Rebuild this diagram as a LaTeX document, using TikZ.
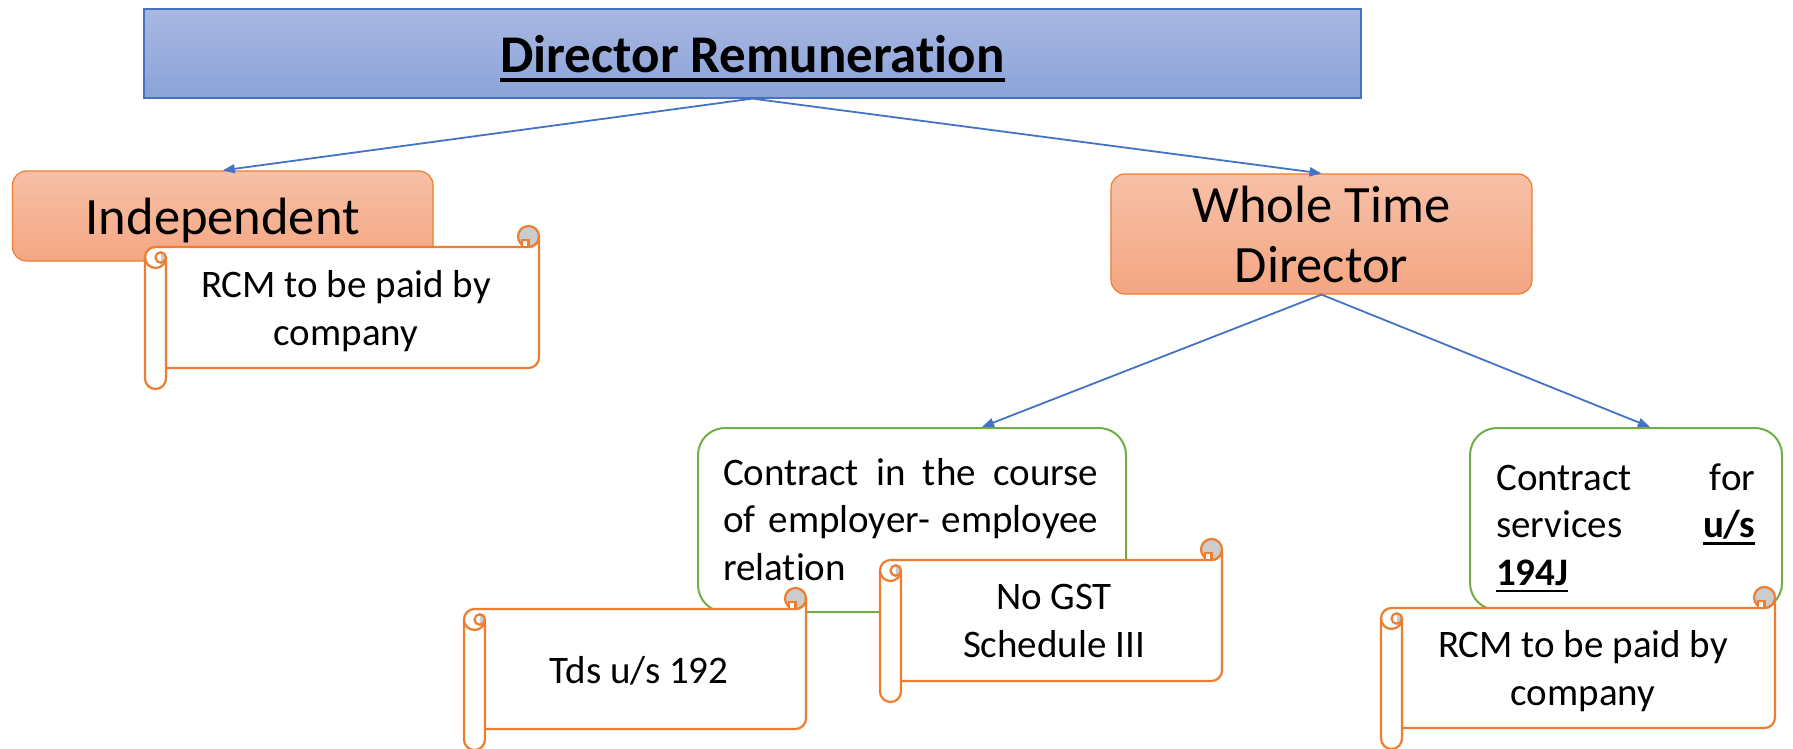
\documentclass[tikz,border=0pt]{standalone}
\usepackage{fontspec}
\setmainfont{Carlito}[Ligatures=NoCommon]
\usetikzlibrary{arrows.meta}

\definecolor{accblue}{RGB}{68,114,196}
\definecolor{accorange}{RGB}{237,125,49}
\definecolor{accgreen}{RGB}{112,173,71}
\definecolor{curlgray}{RGB}{204,204,204}

\newsavebox{\ulbox}
\newcommand{\thickul}[3]{\sbox{\ulbox}{#3}\rlap{\rule[-#1]{\wd\ulbox}{#2}}\usebox{\ulbox}}

% scroll outline: left, top, right, bottom
\newcommand{\scrollshape}[4]{%
  \draw[scrollline,fill=white] ({#1+10.5},{#2+21}) -- ({#3-10.5},{#2+21})
    arc[start angle=90,end angle=0,radius=10.5] -- (#3,{#4-31.5})
    arc[start angle=0,end angle=90,radius=10.5] -- ({#1+21},{#4-21}) -- ({#1+21},{#4-10.5})
    arc[start angle=0,end angle=180,radius=10.5] -- (#1,{#2+31.5})
    arc[start angle=180,end angle=270,radius=10.5] -- cycle;
  \draw[scrollline,fill=curlgray] ({#3-10.5},{#2+10.5}) circle[radius=10.5];
  \draw[scrollline,fill=white] ({#3-17},{#2+14}) rectangle ({#3-10.5},{#2+21});
  \draw[scrollline] (#1,{#2+31.5}) arc[start angle=180,end angle=0,radius=10.5] -- ({#1+21},{#4-21});
  \fill[curlgray] ({#1+15.75},{#2+26.25}) arc[start angle=270,end angle=450,radius=5.25] -- cycle;
  \draw[scrollline] ({#1+15.75},{#2+31.5}) circle[radius=5.25];
}

\begin{document}
\begin{tikzpicture}[x=1pt,y=-1pt,
  titlebox/.style={draw=accblue,line width=1.2pt,top color={rgb,255:red,169;green,183;blue,226},
    bottom color={rgb,255:red,139;green,163;blue,217},font=\fontsize{53}{60}\selectfont\bfseries},
  orangebox/.style={draw=accorange,line width=1.2pt,rounded corners=14pt,
    top color={rgb,255:red,247;green,192;blue,167},bottom color={rgb,255:red,244;green,166;blue,130},
    font=\fontsize{52.5}{60}\selectfont},
  greenbox/.style={draw=accgreen,line width=2pt,fill=white,rounded corners=27pt},
  greentext/.style={align=left,anchor=base west,inner sep=0pt,font=\fontsize{39}{47.5}\selectfont},
  scrollline/.style={draw=accorange,line width=2.2pt},
  scrolltext/.style={align=center,anchor=base,font=\fontsize{39}{48}\selectfont},
  link/.style={draw=accblue,line width=1.8pt,-{Triangle[length=12pt,width=9pt]}}]
\useasboundingbox (0,0) rectangle (1793,749);

\node[titlebox,minimum width=1217pt,minimum height=89pt,text depth=0pt] (title) at (752.5,53.5)
  {\thickul{10pt}{4pt}{Director Remuneration}};
\node[orangebox,minimum width=420.5pt,minimum height=90pt,text depth=0pt] (indep) at (222.75,216) {Independent};
\node[orangebox,minimum width=421pt,minimum height=120pt,align=center] (wtd) at (1321.5,234)
  {Whole Time\\Director};
\node[greenbox,minimum width=428pt,minimum height=184pt] (cin) at (912,520) {};
\node[greentext,text width=375pt] (cintext) at (723,485)
  {Contract\hfill in\hfill the\hfill course\\of employer-\hfill employee\\relation};
\node[greenbox,minimum width=312pt,minimum height=182pt] (cfor) at (1626,519) {};
\node[greentext,text width=259pt] (cfortext) at (1496,490)
  {Contract\hfill for\\services\hfill \textbf{\thickul{7pt}{2.5pt}{u/s}}\\\textbf{\thickul{7pt}{2.5pt}{194J}}};

\draw[link] (title.south) -- (indep.north);
\draw[link] (title.south) -- (wtd.north);
\draw[link] (wtd.south) -- ([xshift=70pt]cin.north);
\draw[link] (wtd.south) -- ([xshift=24pt]cfor.north);

\scrollshape{145}{226}{539}{389}
\scrollshape{464}{588}{806}{750}
\scrollshape{880}{539}{1222}{702}
\scrollshape{1381}{587}{1775}{749}

\node[scrolltext] (rcmone) at (346,345) {RCM to be paid by\\company};
\node[scrolltext] (tds) at (639,683) {Tds u/s 192};
\node[scrolltext] (nogst) at (1054,657) {No GST\\Schedule III};
\node[scrolltext] (rcmtwo) at (1583,705) {RCM to be paid by\\company};
\end{tikzpicture}
\end{document}
